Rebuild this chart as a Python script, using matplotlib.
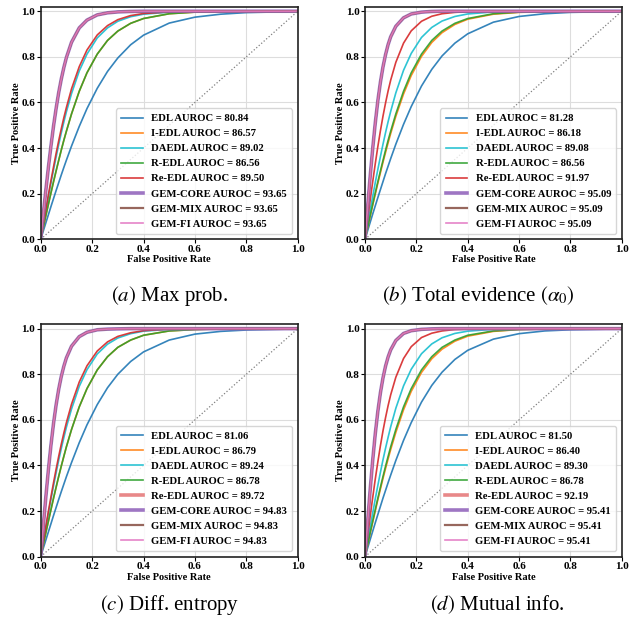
import matplotlib
matplotlib.use("Agg")
import matplotlib.pyplot as plt

plt.rcParams["font.family"] = ["Liberation Serif", "DejaVu Serif"]
plt.rcParams["mathtext.fontset"] = "stix"

# --- Daten ---
methoden = ["EDL", "I-EDL", "DAEDL", "R-EDL", "Re-EDL", "GEM-CORE", "GEM-MIX", "GEM-FI"]
farben = ["#1f77b4", "#ff7f0e", "#17becf", "#2ca02c", "#d62728", "#9467bd", "#8c564b", "#e377c2"]

fpr = [0, 0.01, 0.02, 0.03, 0.04, 0.05, 0.06, 0.07, 0.08, 0.09, 0.10, 0.12, 0.15, 0.18,
       0.22, 0.26, 0.30, 0.35, 0.40, 0.50, 0.60, 0.70, 0.80, 1.00]

# (a) Max prob.
a_edl = [0, .036, .072, .108, .144, .179, .214, .248, .282, .315, .347, .409, .495, .573, .662, .736, .795, .853, .895, .948, .974, .987, .994, .999]
a_iedl = [0, .052, .103, .154, .204, .253, .300, .346, .391, .434, .474, .550, .649, .730, .812, .872, .913, .947, .968, .989, .996, .999, 1.0, 1.0]
a_daedl = [0, .063, .126, .187, .247, .305, .361, .415, .466, .514, .559, .639, .738, .812, .883, .927, .956, .976, .987, .996, .999, 1.0, 1.0, 1.0]
a_redl = [0, .052, .103, .154, .204, .253, .300, .346, .391, .434, .474, .550, .649, .730, .812, .872, .913, .947, .968, .989, .996, .999, 1.0, 1.0]
a_reedl = [0, .066, .131, .196, .258, .318, .377, .432, .484, .533, .578, .660, .757, .830, .896, .937, .963, .981, .990, .997, .999, 1.0, 1.0, 1.0]
a_gem = [0, .109, .215, .316, .410, .497, .574, .643, .702, .753, .797, .864, .927, .961, .984, .993, .997, .999, 1.0, 1.0, 1.0, 1.0, 1.0, 1.0]
auroc_a = [80.84, 86.57, 89.02, 86.56, 89.50, 93.65, 93.65, 93.65]

# (b) Total evidence
b_edl = [0, .037, .074, .111, .147, .183, .218, .253, .288, .321, .354, .417, .504, .582, .672, .745, .804, .860, .901, .952, .977, .989, .995, .999]
b_iedl = [0, .050, .100, .150, .198, .246, .292, .338, .381, .423, .464, .539, .637, .718, .802, .863, .906, .942, .965, .987, .995, .998, .999, 1.0]
b_daedl = [0, .063, .126, .188, .249, .307, .363, .417, .468, .516, .561, .642, .741, .815, .885, .929, .957, .977, .988, .997, .999, 1.0, 1.0, 1.0]
b_redl = [0, .052, .103, .154, .204, .253, .300, .346, .391, .434, .474, .550, .649, .730, .812, .872, .913, .947, .968, .989, .996, .999, 1.0, 1.0]
b_reedl = [0, .086, .171, .253, .332, .407, .476, .540, .598, .651, .698, .776, .860, .914, .956, .978, .989, .995, .998, 1.0, 1.0, 1.0, 1.0, 1.0]
b_gem = [0, .140, .275, .399, .511, .608, .689, .756, .810, .854, .888, .934, .971, .988, .996, .999, 1.0, 1.0, 1.0, 1.0, 1.0, 1.0, 1.0, 1.0]
auroc_b = [81.28, 86.18, 89.08, 86.56, 91.97, 95.09, 95.09, 95.09]

# (c) Diff. entropy
c_edl = [0, .037, .073, .109, .145, .181, .216, .251, .285, .318, .351, .413, .500, .578, .667, .741, .800, .856, .898, .950, .976, .988, .994, .999]
c_iedl = [0, .053, .105, .156, .207, .257, .305, .352, .397, .440, .482, .558, .657, .737, .819, .877, .918, .950, .971, .990, .996, .999, 1.0, 1.0]
c_daedl = [0, .064, .128, .191, .252, .311, .368, .423, .474, .522, .568, .648, .747, .820, .889, .932, .959, .978, .989, .997, .999, 1.0, 1.0, 1.0]
c_redl = [0, .053, .105, .156, .207, .257, .305, .352, .397, .440, .482, .558, .657, .737, .819, .877, .918, .950, .971, .990, .996, .999, 1.0, 1.0]
c_reedl = [0, .067, .134, .200, .263, .325, .384, .440, .493, .542, .588, .669, .766, .837, .902, .942, .966, .982, .991, .998, .999, 1.0, 1.0, 1.0]
c_gem = [0, .133, .262, .382, .490, .585, .666, .734, .790, .835, .872, .923, .965, .984, .995, .998, .999, 1.0, 1.0, 1.0, 1.0, 1.0, 1.0, 1.0]
auroc_c = [81.06, 86.79, 89.24, 86.78, 89.72, 94.83, 94.83, 94.83]

# (d) Mutual info.
d_edl = [0, .038, .075, .112, .149, .185, .221, .257, .291, .325, .358, .422, .510, .588, .678, .751, .809, .865, .905, .954, .978, .990, .995, .999]
d_iedl = [0, .051, .102, .152, .201, .250, .297, .343, .387, .429, .470, .545, .644, .725, .808, .868, .910, .945, .967, .988, .996, .998, 1.0, 1.0]
d_daedl = [0, .065, .129, .192, .254, .313, .370, .425, .476, .524, .570, .651, .749, .822, .890, .933, .960, .979, .989, .997, .999, 1.0, 1.0, 1.0]
d_redl = [0, .053, .105, .156, .207, .257, .305, .352, .397, .440, .482, .558, .657, .737, .819, .877, .918, .950, .971, .990, .996, .999, 1.0, 1.0]
d_reedl = [0, .089, .176, .260, .341, .416, .487, .552, .610, .663, .710, .787, .869, .921, .961, .980, .990, .996, .998, 1.0, 1.0, 1.0, 1.0, 1.0]
d_gem = [0, .150, .293, .424, .540, .638, .719, .784, .836, .876, .907, .948, .979, .991, .997, .999, 1.0, 1.0, 1.0, 1.0, 1.0, 1.0, 1.0, 1.0]
auroc_d = [81.50, 86.40, 89.30, 86.78, 92.19, 95.41, 95.41, 95.41]

captions = [r"$\mathit{(a)}$ Max prob.", r"$\mathit{(b)}$ Total evidence $(\alpha_0)$",
            r"$\mathit{(c)}$ Diff. entropy", r"$\mathit{(d)}$ Mutual info."]

panels = [
    [a_edl, a_iedl, a_daedl, a_redl, a_reedl, a_gem, a_gem, a_gem],
    [b_edl, b_iedl, b_daedl, b_redl, b_reedl, b_gem, b_gem, b_gem],
    [c_edl, c_iedl, c_daedl, c_redl, c_reedl, c_gem, c_gem, c_gem],
    [d_edl, d_iedl, d_daedl, d_redl, d_reedl, d_gem, d_gem, d_gem],
]
aurocs = [auroc_a, auroc_b, auroc_c, auroc_d]

# --- Layout ---
fig = plt.figure(figsize=(6.3, 6.23), dpi=100)
positions = [
    [0.0646, 0.6159, 0.408, 0.3734],
    [0.5794, 0.6159, 0.4075, 0.3734],
    [0.0646, 0.1064, 0.408, 0.3734],
    [0.5794, 0.1064, 0.4075, 0.3734],
]
caption_pos = [(0.270, 0.525), (0.760, 0.525), (0.270, 0.029), (0.790, 0.029)]

for p in range(4):
    ax = fig.add_axes(positions[p])
    for i, name in enumerate(methoden):
        lw = 1.2
        if name == "GEM-CORE":
            lw = 2.6
        elif name == "GEM-MIX":
            lw = 1.6
        ax.plot(fpr, panels[p][i], color=farben[i], lw=lw, alpha=0.9,
                label=f"{name} AUROC = {aurocs[p][i]:.2f}")
    ax.plot([0, 1], [0, 1], color="gray", linestyle=":", lw=0.9)

    ax.set_xlim(0, 1)
    ax.set_ylim(0, 1.02)
    ax.set_xticks([0, 0.2, 0.4, 0.6, 0.8, 1.0])
    ax.set_yticks([0, 0.2, 0.4, 0.6, 0.8, 1.0])
    ax.tick_params(labelsize=8, length=3, pad=1)
    for lab in ax.get_xticklabels() + ax.get_yticklabels():
        lab.set_fontweight("bold")
    ax.grid(True, color="#dddddd", lw=0.8)
    ax.set_axisbelow(True)
    for s in ax.spines.values():
        s.set_linewidth(1.2)
        s.set_color("#222222")
    ax.set_xlabel("False Positive Rate", fontsize=7.5, fontweight="bold", labelpad=1)
    ax.set_ylabel("True Positive Rate", fontsize=7.5, fontweight="bold", labelpad=0.5)
    leg = ax.legend(loc="lower right", labelspacing=0.52, handlelength=2.0,
                    borderpad=0.5, prop={"weight": "bold", "size": 7.7})
    if p >= 2:
        # Re-EDL im Legendeneintrag dicker und heller
        leg.legend_handles[4].set_linewidth(2.6)
        leg.legend_handles[4].set_alpha(0.55)

    fig.text(caption_pos[p][0], caption_pos[p][1], captions[p], ha="center", va="center",
             fontsize=15)

fig.savefig("out.png", dpi=100)
